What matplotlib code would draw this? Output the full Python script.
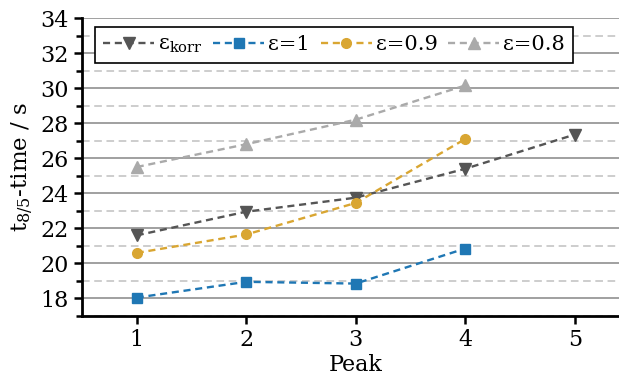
import matplotlib.pyplot as plt
from matplotlib.ticker import MultipleLocator

plt.rcParams['font.family'] = 'DejaVu Serif'
plt.rcParams['mathtext.fontset'] = 'dejavuserif'

peaks = [1, 2, 3, 4, 5]
eps_korr = [21.6, 22.95, 23.75, 25.4, 27.35]
eps_1 = [18.05, 18.95, 18.85, 20.85]
eps_09 = [20.6, 21.65, 23.45, 27.1]
eps_08 = [25.5, 26.8, 28.2, 30.15]

fig = plt.figure(figsize=(6.19, 3.83), dpi=100)
ax = fig.add_axes([82 / 619, 1 - 316 / 383, (629.5 - 82) / 619, (316 - 18) / 383])

style = dict(ls='--', dashes=(3, 2), lw=1.7)
ax.plot(peaks, eps_korr, marker='v', color='#555555', ms=8, label=r'ε$_{\mathrm{korr}}$', **style)
ax.plot(peaks[:4], eps_1, marker='s', color='#1f77b4', ms=7, label='ε=1', **style)
ax.plot(peaks[:4], eps_09, marker='o', color='#d9a632', ms=7, label='ε=0.9', **style)
ax.plot(peaks[:4], eps_08, marker='^', color='#aaaaaa', ms=8, label='ε=0.8', **style)

ax.set_xlim(0.5, 5.5)
ax.set_ylim(17, 34)
ax.set_xticks(peaks)
ax.yaxis.set_minor_locator(MultipleLocator(1))
ax.set_yticks([18, 20, 22, 24, 26, 28, 30, 32, 34])
ax.grid(axis='y', which='major', color='#999999', lw=1.3)
ax.grid(axis='y', which='minor', color='#c0c0c0', lw=1.1, ls='--', dashes=(5, 3))
ax.set_axisbelow(True)

for s in ['top', 'right']:
    ax.spines[s].set_visible(False)
for s in ['left', 'bottom']:
    ax.spines[s].set_linewidth(2)
ax.tick_params(axis='both', which='major', width=1.8, length=6, labelsize=16)
ax.tick_params(axis='y', which='minor', width=1.8, length=4)

ax.set_xlabel('Peak', fontsize=16, labelpad=2)
ax.set_ylabel(r't$_{8/5}$-time / s', fontsize=16.5, labelpad=4)

leg = ax.legend(loc='upper left', bbox_to_anchor=(0.024, 0.97), borderaxespad=0, ncol=4,
                fontsize=15, frameon=True, fancybox=False, edgecolor='black', framealpha=1,
                handlelength=2.45, columnspacing=0.5, handletextpad=0.2, borderpad=0.38)
leg.get_frame().set_linewidth(1.2)

fig.savefig('out.png', dpi=100)
